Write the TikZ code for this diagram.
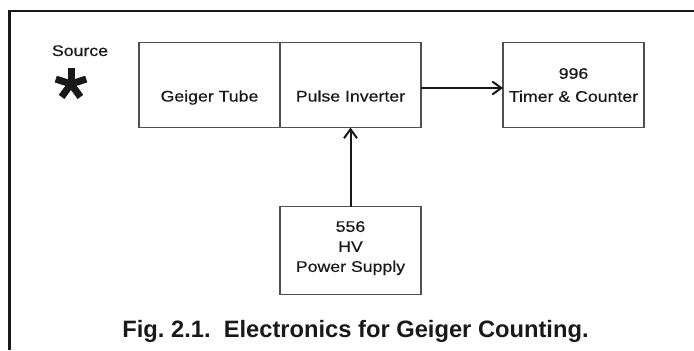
\documentclass[tikz,border=0pt]{standalone}
\usepackage{fontspec}
\setmainfont{Liberation Sans}
\newfontfamily\widefont{Liberation Sans}[FakeStretch=1.15, FakeBold=0.5]
\usepackage{tikz}
\usetikzlibrary{positioning, arrows.meta}
\definecolor{boxline}{RGB}{80, 80, 80}
\definecolor{ink}{RGB}{25, 25, 25}

\begin{document}
\begin{tikzpicture}[x=1bp, y=-1bp, >={Straight Barb[length=9bp, width=13bp]},
  blk/.style={draw=boxline, line width=1.8bp, outer sep=0pt, minimum width=141bp,
    minimum height=85bp, text=ink, align=center,
    font=\widefont\fontsize{15.4bp}{20bp}\selectfont},
  lowtext/.style={text height=33bp, text depth=0pt},
  flow/.style={->, line width=2bp, ink}]
  \useasboundingbox (0,0) rectangle (694,350);
  % frame
  \draw[ink, line width=2.2bp] (9.5,350) -- (9.5,11) -- (694,11);
  % source
  \node[text=ink, font=\widefont\fontsize{15.4bp}{18bp}\selectfont, anchor=base] (src) at (80,56) {Source};
  \coordinate (star) at (71,84);
  \fill[ink] (star) circle (3.5bp);
  \foreach \a in {90, 18, 162, 234, 306}
    \draw[ink, line width=7bp] (star) -- ++(\a:16bp);
  % blocks
  \node[blk, lowtext] (tube) at (209.5,85) {Geiger Tube};
  \node[blk, lowtext, right=0pt of tube] (inv) {Pulse Inverter};
  \node[blk, right=82bp of inv] (timer) {996\\[3bp]Timer \& Counter};
  \node[blk, minimum height=88bp, text depth=8bp, below=79bp of inv] (hv) {556\\HV\\Power Supply};
  \draw[flow] ([yshift=-3bp]inv.east) -- ([yshift=-3bp]timer.west);
  \draw[flow] (hv.north) -- (inv.south);
  % caption
  \node[text=ink, font=\bfseries\fontsize{23.7bp}{28bp}\selectfont, anchor=base] (cap) at (355.5,337.7)
    {Fig.~2.1.\ \ Electronics for Geiger Counting.};
\end{tikzpicture}
\end{document}
